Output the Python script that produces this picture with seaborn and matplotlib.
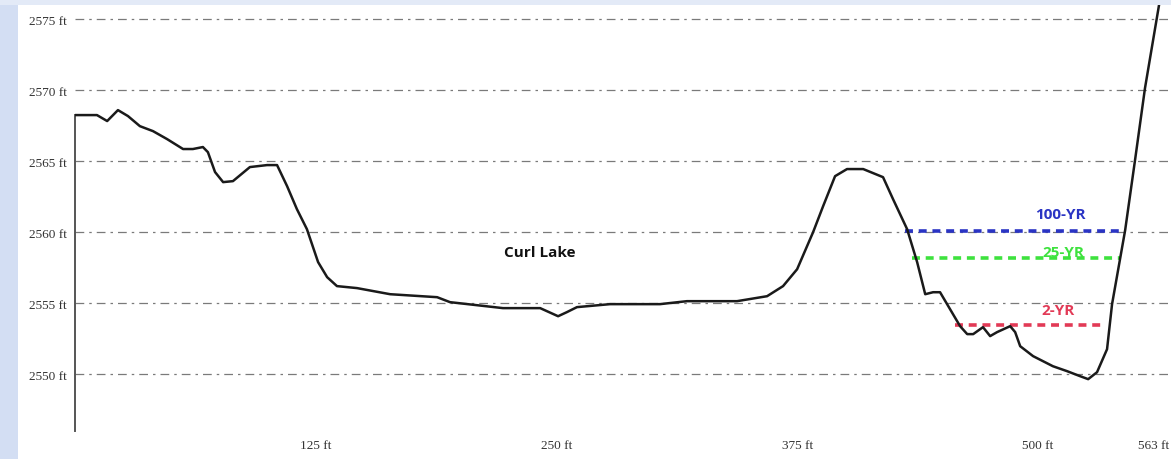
import numpy as np
import pandas as pd
import matplotlib
matplotlib.use("Agg")
import matplotlib.pyplot as plt
from matplotlib.patches import Rectangle
from matplotlib.transforms import ScaledTranslation
import seaborn as sns

# ---- data ----
station_ft = [0, 11.4, 16.7, 22.3, 27.5, 33.7, 40.5, 47.8, 56.1, 61.2, 66.4, 69.0,
              72.7, 76.9, 82.0, 90.8, 99.7, 104.9, 110.1, 115.2, 120.4, 126.2, 130.9,
              136.0, 146.4, 163.6, 188.0, 194.7, 222.2, 241.5, 250.8, 255.4, 260.6,
              277.8, 303.7, 317.7, 343.7, 359.3, 367.6, 374.9, 383.2, 388.4, 394.6,
              400.8, 409.2, 419.5, 424.7, 432.0, 437.2, 441.4, 445.5, 449.1, 459.5,
              463.2, 466.3, 471.4, 475.1, 478.7, 485.5, 488.1, 490.7, 497.4, 507.7,
              515.1, 521.8, 526.0, 530.6, 535.8, 538.4, 545.2, 550.4, 555.5, 563.3]
elevation_ft = [2568.24, 2568.24, 2567.82, 2568.59, 2568.17, 2567.46, 2567.11, 2566.55,
                2565.85, 2565.85, 2565.99, 2565.63, 2564.23, 2563.52, 2563.59, 2564.58,
                2564.72, 2564.72, 2563.24, 2561.62, 2560.21, 2557.89, 2556.83, 2556.20,
                2556.06, 2555.63, 2555.42, 2555.07, 2554.65, 2554.65, 2554.08, 2554.37,
                2554.72, 2554.93, 2554.93, 2555.14, 2555.14, 2555.49, 2556.20, 2557.39,
                2560.00, 2561.83, 2563.94, 2564.44, 2564.44, 2563.87, 2562.32, 2560.21,
                2557.89, 2555.63, 2555.77, 2555.77, 2553.38, 2552.82, 2552.82, 2553.31,
                2552.68, 2552.96, 2553.38, 2552.96, 2551.97, 2551.27, 2550.56, 2550.21,
                2549.86, 2549.65, 2550.14, 2551.76, 2554.93, 2560.14, 2565.14, 2570.14,
                2576.40]

flood_names = ["100-YR", "25-YR", "2-YR"]
flood_elev = [2560.1, 2558.17, 2553.45]
flood_start = [431.0, 434.6, 456.7]
flood_end = [542.6, 542.6, 532.9]
flood_colors = ["#2a34c4", "#3ee23e", "#e23a56"]
flood_label_xy = [(511.4, 2561.3), (512.9, 2558.6), (510.3, 2554.5)]

x_ticks = [125, 250, 375, 500, 563]
x_ticklabels = ["125 ft", "250 ft", "375 ft", "500 ft", "563 ft"]
y_ticks = [2550, 2555, 2560, 2565, 2570, 2575]
y_ticklabels = [f"{v} ft" for v in y_ticks]
lake_label = "Curl Lake"
lake_label_xy = (241.5, 2558.6)

# ---- figure ----
sns.set_theme(style="white")
plt.rcParams["font.family"] = ["DejaVu Sans"]

fig = plt.figure(figsize=(11.71, 4.60), dpi=100, facecolor="white")
# slide-like light blue edges
fig.patches.append(Rectangle((0, 0), 18 / 1171, 1, transform=fig.transFigure,
                             facecolor="#d3def3", edgecolor="none", zorder=0))
fig.patches.append(Rectangle((0, 1 - 6 / 460), 1, 6 / 460, transform=fig.transFigure,
                             facecolor="#e3eaf7", edgecolor="none", zorder=0))

ax = fig.add_axes([75 / 1171, 28 / 460, 1 - 75 / 1171, (432 - 5) / 460])
ax.set_facecolor("none")

ymin, ymax = 2546.0, 2576.06
ax.set_xlim(0, 569)
ax.set_ylim(ymin, ymax)

# gridlines
for yv in y_ticks:
    ax.axhline(yv, color="#7a7a7a", lw=0.9, ls=(0, (7, 4, 2, 4)), zorder=1)

profile = pd.DataFrame({"station": station_ft, "elev": elevation_ft})
sns.lineplot(data=profile, x="station", y="elev", sort=False, estimator=None,
             color="#1a1a1a", lw=1.8, ax=ax, zorder=4)

for name, e, s, t, c, (lx, ly) in zip(flood_names, flood_elev, flood_start,
                                      flood_end, flood_colors, flood_label_xy):
    d = pd.DataFrame({"x": [s, t], "y": [e, e]})
    sns.lineplot(data=d, x="x", y="y", color=c, lw=2.6, ax=ax,
                 linestyle=(0, (2.2, 1.6)), zorder=3)
    ax.text(lx, ly, name, color=c, fontsize=11, fontweight="bold",
            family=["Open Sans", "DejaVu Sans"], ha="center", va="center", zorder=5)

ax.text(lake_label_xy[0], lake_label_xy[1], lake_label, color="#111111", fontsize=11,
        fontweight="bold", family=["Open Sans", "DejaVu Sans"],
        ha="center", va="center", zorder=5)

# axes styling
for side in ["top", "right", "bottom"]:
    ax.spines[side].set_visible(False)
ax.spines["left"].set_color("#555555")
ax.spines["left"].set_linewidth(1.4)
ax.spines["left"].set_bounds(ymin, elevation_ft[0])

ax.set_xticks(x_ticks)
ax.set_xticklabels(x_ticklabels)
ax.set_yticks(y_ticks)
ax.set_yticklabels(y_ticklabels)
ax.tick_params(axis="x", length=4, width=0.8, color="#777777", direction="out",
               pad=2, labelsize=9.5, labelcolor="#333333")
ax.tick_params(axis="y", length=0, pad=6, labelsize=9.5, labelcolor="#333333")
for lab in ax.get_xticklabels() + ax.get_yticklabels():
    lab.set_family(["Liberation Serif", "DejaVu Serif"])
# keep the last x label inside the picture
last = ax.get_xticklabels()[-1]
last.set_transform(last.get_transform() + ScaledTranslation(-6 / 100, 0, fig.dpi_scale_trans))
ax.set_xlabel("")
ax.set_ylabel("")
ax.grid(False)

fig.savefig("out.png", dpi=100, facecolor=fig.get_facecolor())
